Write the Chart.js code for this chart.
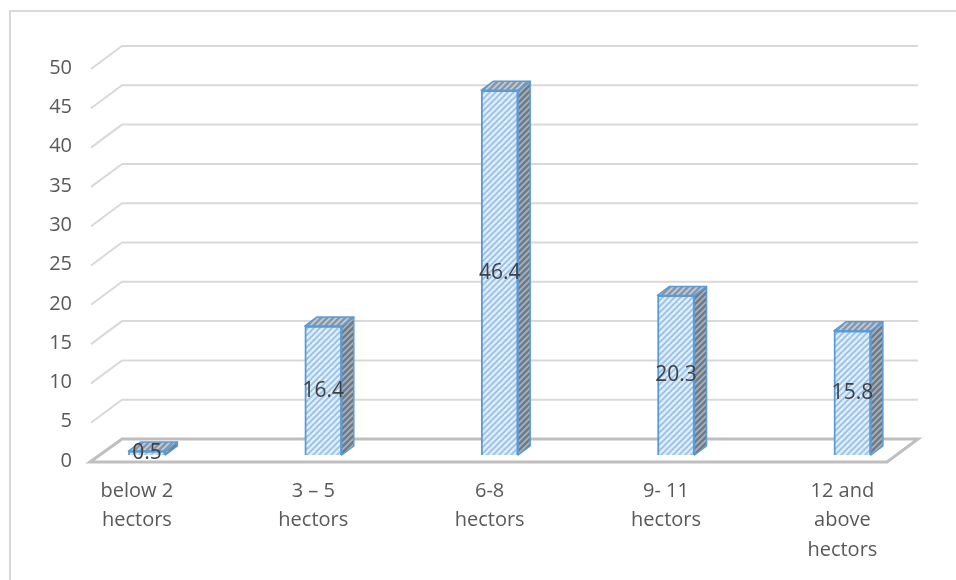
<!DOCTYPE html>
<html>
<head>
  <meta charset="UTF-8">
  <title>Farm size distribution</title>
  <script src="https://cdn.jsdelivr.net/npm/chart.js"></script>
  <style>
    body { margin: 0; background: #fff; }
    canvas { display: block; }
  </style>
</head>
<body>
  <canvas id="farmChart" width="956" height="580"></canvas>

  <script>
    // chart data
    const categories = [
      ['below 2', 'hectors'],
      ['3 – 5', 'hectors'],
      ['6-8', 'hectors'],
      ['9- 11', 'hectors'],
      ['12 and', 'above', 'hectors']
    ];
    const shares = [0.5, 16.4, 46.4, 20.3, 15.8];
    const yTicks = [0, 5, 10, 15, 20, 25, 30, 35, 40, 45, 50];

    const FONT = "'Open Sans', sans-serif";
    const DX = 12, DY = -9;        // bar depth
    const WX = 31, WY = -23;       // back wall offset

    // hatched fill for bar faces
    function hatch(bg, line, dot) {
      const c = document.createElement('canvas');
      c.width = 6; c.height = 6;
      const g = c.getContext('2d');
      g.fillStyle = bg;
      g.fillRect(0, 0, 6, 6);
      g.strokeStyle = line;
      g.lineWidth = 1.6;
      g.beginPath();
      g.moveTo(-1, 7); g.lineTo(7, -1);
      g.moveTo(-1, 1); g.lineTo(1, -1);
      g.moveTo(5, 7); g.lineTo(7, 5);
      g.stroke();
      if (dot) { g.fillStyle = dot; g.fillRect(1, 1, 1, 1); }
      return g.createPattern(c, 'repeat');
    }
    const frontFill = hatch('#deebf8', '#98bfe8', '#ffffff');
    const sideFill = hatch('#6f7b88', '#a9b3be', null);
    const topFill = hatch('#8797a9', '#c3cedb', null);

    // walls, gridlines, floor, border
    const wallPlugin = {
      id: 'wall',
      beforeDatasetsDraw(chart) {
        const { ctx, chartArea: a, scales: { y } } = chart;
        ctx.save();
        ctx.strokeStyle = '#d9d9d9';
        ctx.lineWidth = 2;
        ctx.beginPath();
        ctx.moveTo(10, 580); ctx.lineTo(10, 11); ctx.lineTo(956, 11);
        ctx.stroke();
        yTicks.forEach(v => {
          if (v === 0) return;
          const yf = y.getPixelForValue(v) + 7;
          ctx.beginPath();
          ctx.moveTo(a.left, yf);
          ctx.lineTo(a.left + WX, yf + WY);
          ctx.lineTo(a.right, yf + WY);
          ctx.stroke();
        });
        const y0 = y.getPixelForValue(0) + 7;
        ctx.strokeStyle = '#bfbfbf';
        ctx.lineWidth = 3;
        ctx.beginPath();
        ctx.moveTo(a.left - 1, y0);
        ctx.lineTo(a.left + WX, y0 + WY);
        ctx.lineTo(a.right, y0 + WY);
        ctx.lineTo(a.right - WX, y0);
        ctx.closePath();
        ctx.stroke();
        ctx.restore();
      },
      afterDatasetsDraw(chart) {
        const { ctx } = chart;
        const meta = chart.getDatasetMeta(0);
        ctx.save();
        ctx.strokeStyle = '#5b9bd5';
        ctx.lineWidth = 1.5;
        ctx.lineJoin = 'round';
        meta.data.forEach(bar => {
          const { x, y, base, width } = bar.getProps(['x', 'y', 'base', 'width']);
          const l = x - width / 2, r = x + width / 2;
          // side
          ctx.fillStyle = sideFill;
          ctx.beginPath();
          ctx.moveTo(r, y); ctx.lineTo(r + DX, y + DY);
          ctx.lineTo(r + DX, base + DY); ctx.lineTo(r, base);
          ctx.closePath(); ctx.fill(); ctx.stroke();
          // top
          ctx.fillStyle = topFill;
          ctx.beginPath();
          ctx.moveTo(l, y); ctx.lineTo(l + DX, y + DY);
          ctx.lineTo(r + DX, y + DY); ctx.lineTo(r, y);
          ctx.closePath(); ctx.fill(); ctx.stroke();
        });
        // value labels
        ctx.fillStyle = '#404040';
        ctx.font = '21px ' + FONT;
        ctx.textAlign = 'center';
        ctx.textBaseline = 'middle';
        meta.data.forEach((bar, i) => {
          const { x, y, base } = bar.getProps(['x', 'y', 'base']);
          ctx.fillText(shares[i].toString(), x, (y + base) / 2);
        });
        ctx.restore();
      }
    };

    new Chart(document.getElementById('farmChart'), {
      type: 'bar',
      data: {
        datasets: [{
          data: shares.map((v, i) => ({ x: i, y: v })),
          backgroundColor: frontFill,
          borderColor: '#5b9bd5',
          borderWidth: 2,
          barThickness: 37
        }]
      },
      options: {
        responsive: false,
        animation: false,
        devicePixelRatio: 1,
        layout: { padding: { top: 62, right: 38, left: 0, bottom: 0 } },
        plugins: { legend: { display: false }, tooltip: { enabled: false } },
        scales: {
          x: {
            type: 'linear',
            offset: false,
            min: -0.317,
            max: 4.372,
            afterFit: s => { s.height = 125; },
            afterBuildTicks: s => { s.ticks = categories.map((c, i) => ({ value: i })); },
            grid: { display: false, drawTicks: false },
            border: { display: false },
            ticks: {
              autoSkip: false,
              maxRotation: 0,
              padding: 21,
              labelOffset: -10,
              color: '#595959',
              font: { family: FONT, size: 20, lineHeight: 1.48 },
              callback: v => categories[v]
            }
          },
          y: {
            min: 0,
            max: 50,
            afterFit: s => { s.width = 91; },
            afterBuildTicks: s => { s.ticks = yTicks.map(v => ({ value: v })); },
            grid: { display: false, drawTicks: false },
            border: { display: false },
            ticks: {
              padding: 19,
              labelOffset: 6,
              color: '#595959',
              font: { family: FONT, size: 20 }
            }
          }
        }
      },
      plugins: [wallPlugin]
    });
  </script>
</body>
</html>
